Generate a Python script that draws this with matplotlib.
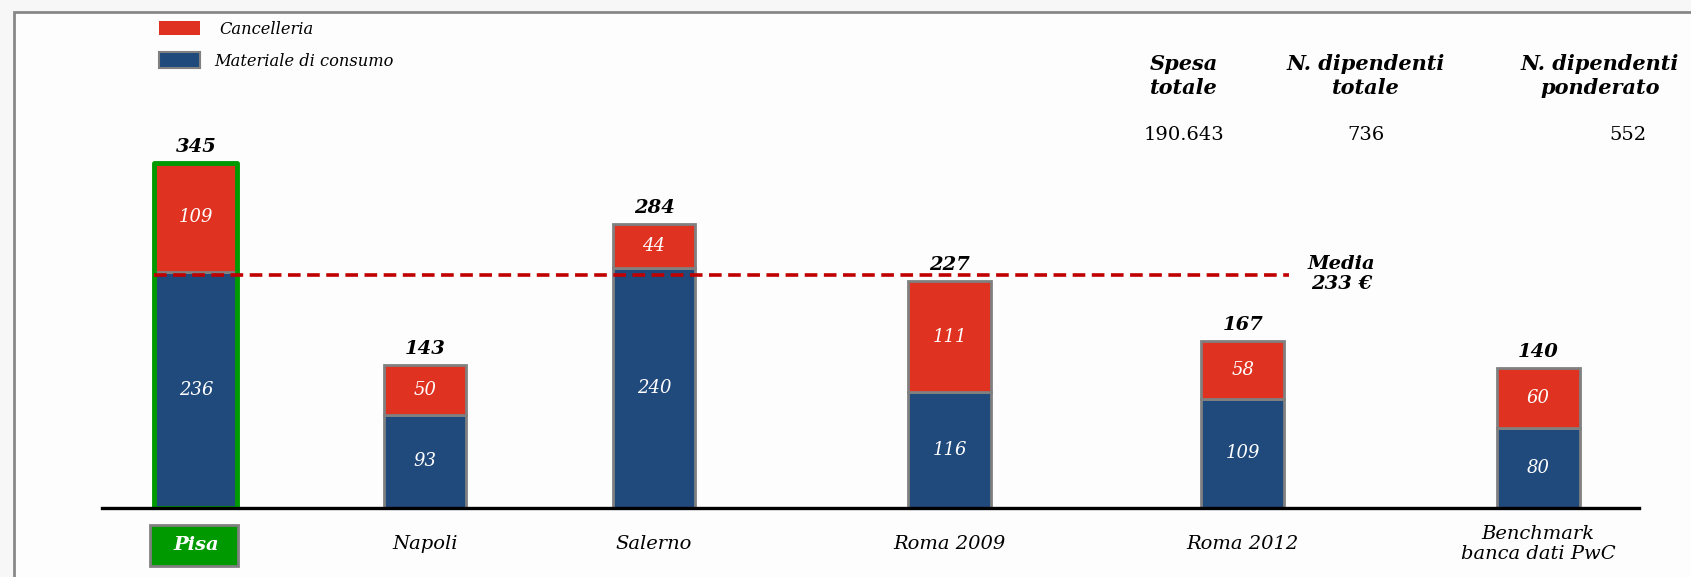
import matplotlib
matplotlib.use("Agg")
import matplotlib.pyplot as plt
from matplotlib.patches import Rectangle

# data
categorie = ["Pisa", "Napoli", "Salerno", "Roma 2009", "Roma 2012", "Benchmark\nbanca dati PwC"]
posizioni = [0, 1, 2, 3.29, 4.57, 5.86]
materiale = [236, 93, 240, 116, 109, 80]
cancelleria = [109, 50, 44, 111, 58, 60]
totali = [345, 143, 284, 227, 167, 140]
media = 233
intestazioni = ["Spesa\ntotale", "N. dipendenti\ntotale", "N. dipendenti\nponderato"]
valori_intestazioni = ["190.643", "736", "552"]

ROSSO = "#E03220"
BLU = "#20497C"
VERDE = "#009900"
GRIGIO = "#808080"
FONT = "DejaVu Serif"

W, H = 1691, 577
fig = plt.figure(figsize=(W / 100, H / 100), dpi=100)
fig.patch.set_facecolor("#f7f7f7")

# sfondo in pixel (cornice, legenda, intestazioni)
bg = fig.add_axes([0, 0, 1, 1])
bg.set_xlim(0, W)
bg.set_ylim(H, 0)
bg.axis("off")
bg.add_patch(Rectangle((14, 12), W, H, facecolor="#fdfdfd", edgecolor="#888888", lw=2))

# legenda
bg.add_patch(Rectangle((159, 21), 41, 14, facecolor=ROSSO, edgecolor="none"))
bg.add_patch(Rectangle((159, 52), 41, 16, facecolor=BLU, edgecolor=GRIGIO, lw=1.5))
bg.text(219, 29, "Cancelleria", fontsize=11.7, style="italic", family=FONT, va="center")
bg.text(214, 61, "Materiale di consumo", fontsize=11.7, style="italic", family=FONT, va="center")

# intestazioni tabella
cx = [1184, 1366, 1600]
vx = [1184, 1366, 1628]
for i in range(3):
    bg.text(cx[i], 76, intestazioni[i], fontsize=15, weight="bold", style="italic",
            family=FONT, ha="center", va="center", linespacing=1.25)
    bg.text(vx[i], 135, valori_intestazioni[i], fontsize=14, family=FONT,
            ha="center", va="center")

# riquadro verde sotto Pisa
bg.add_patch(Rectangle((150, 525), 88, 41, facecolor=VERDE, edgecolor=GRIGIO, lw=2))

# grafico
ax = fig.add_axes([102 / W, (H - 508) / H, (1639 - 102) / W, 508 / H])
ax.set_facecolor("none")
ax.set_xlim(-0.41, 6.30)
ax.set_ylim(0, 508)
ax.axis("off")

w = 0.362
ax.bar(posizioni, materiale, width=w, color=BLU, edgecolor=GRIGIO, lw=2, zorder=2)
ax.bar(posizioni, cancelleria, bottom=materiale, width=w, color=ROSSO, edgecolor=GRIGIO, lw=2, zorder=2)
# contorno verde per Pisa
ax.add_patch(Rectangle((posizioni[0] - w / 2, 0), w, totali[0], fill=False,
                       edgecolor=VERDE, lw=3.5, zorder=3, joinstyle="round"))

for i in range(len(posizioni)):
    ax.text(posizioni[i], materiale[i] / 2, str(materiale[i]), color="white", fontsize=13,
            style="italic", family=FONT, ha="center", va="center", zorder=4)
    ax.text(posizioni[i], materiale[i] + cancelleria[i] / 2, str(cancelleria[i]), color="white",
            fontsize=13, style="italic", family=FONT, ha="center", va="center", zorder=4)
    ax.text(posizioni[i], totali[i] + 7, str(totali[i]), fontsize=14, weight="bold",
            style="italic", family=FONT, ha="center", va="bottom")

ax.axhline(0, color="black", lw=2.4, zorder=5, clip_on=False)

# linea della media
ax.plot([posizioni[0] - w / 2, posizioni[4] + w / 2 + 0.02], [media, media],
        color="#C00000", lw=2.6, ls=(0, (3.5, 1.8)), zorder=6)
ax.text(posizioni[4] + w / 2 + 0.25, media + 1, "Media\n233 €", fontsize=14, weight="bold",
        style="italic", family=FONT, ha="center", va="center", linespacing=1.2)

# etichette categorie
for i in range(len(posizioni)):
    if i == 0:
        ax.text(posizioni[i], -37, categorie[i], color="white", fontsize=14, weight="bold",
                style="italic", family=FONT, ha="center", va="center", clip_on=False)
    else:
        ax.text(posizioni[i], -36, categorie[i], fontsize=14, style="italic", family=FONT,
                ha="center", va="center", clip_on=False, linespacing=1.15)

fig.savefig("out.png", dpi=100, facecolor=fig.get_facecolor())
